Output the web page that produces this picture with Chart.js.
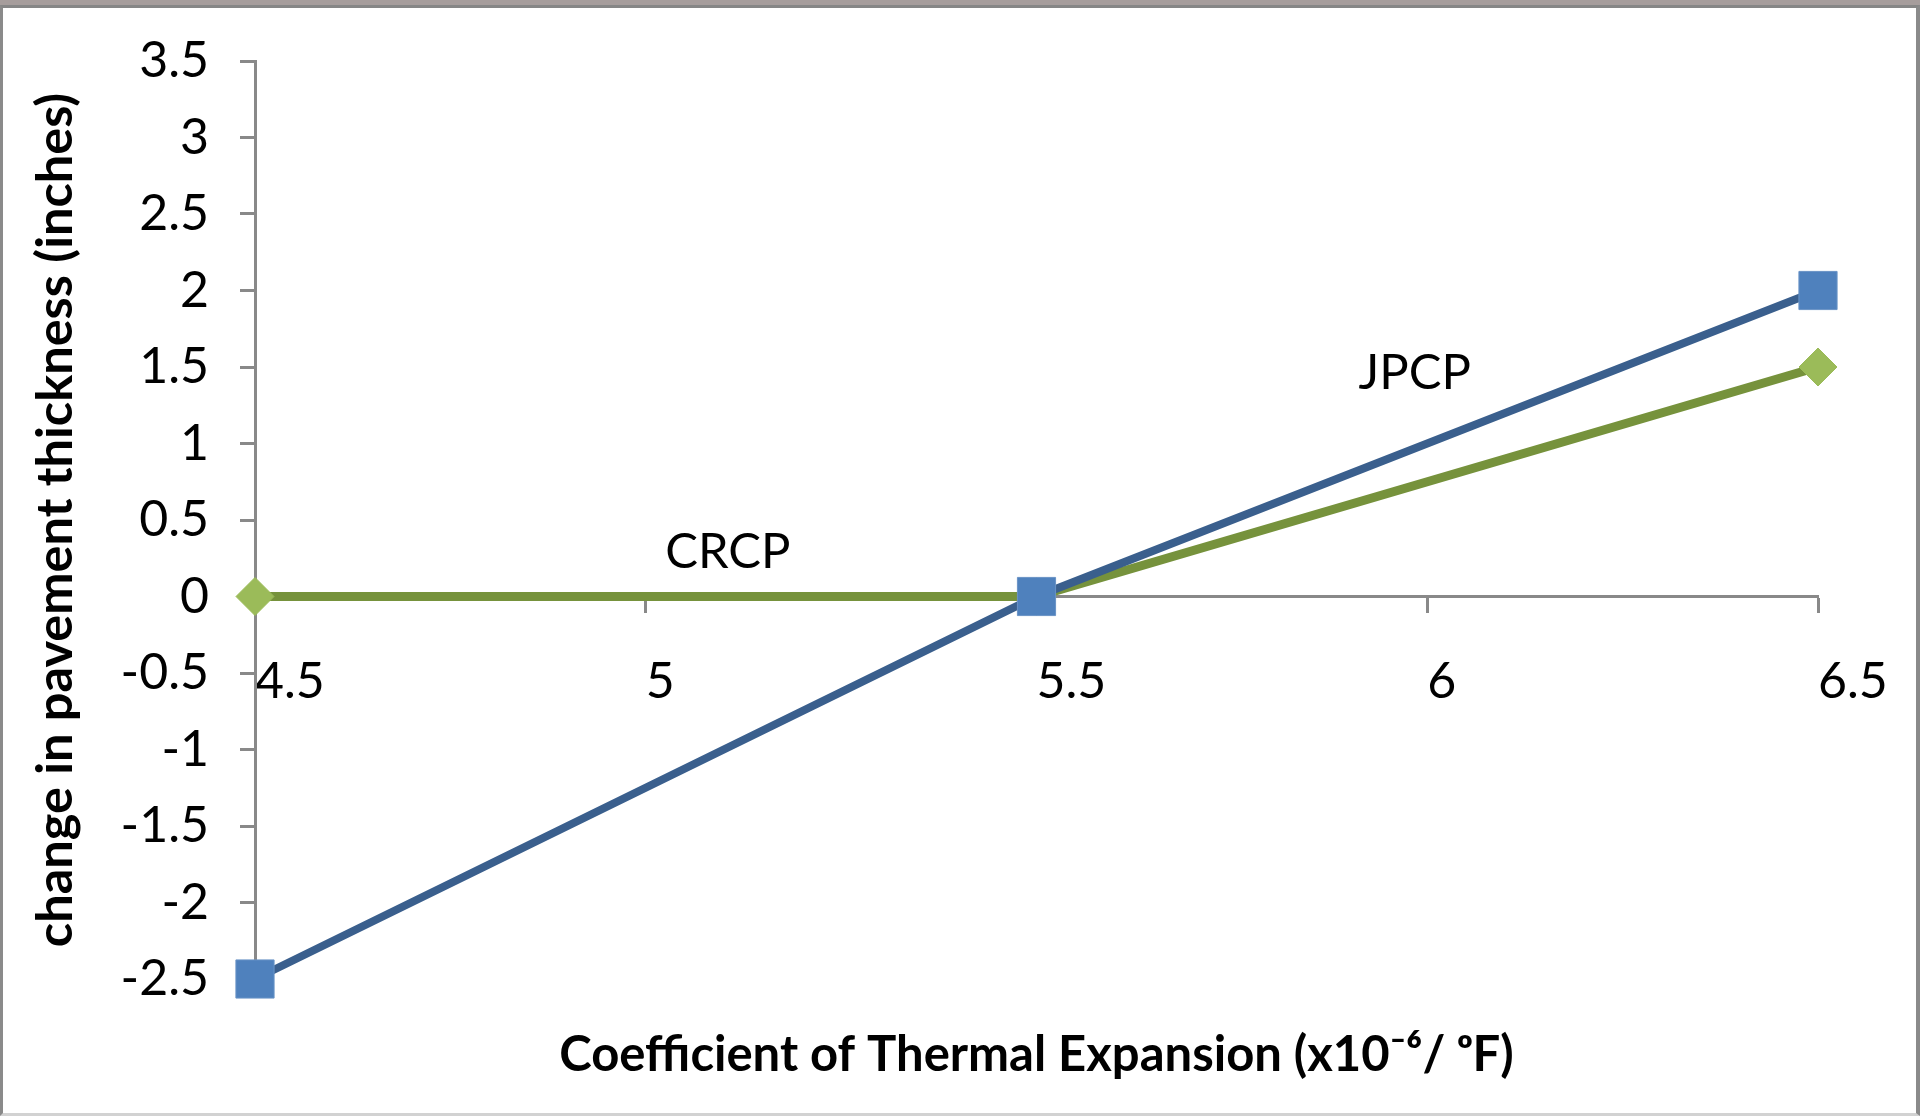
<!DOCTYPE html>
<html>
<head>
<meta charset="utf-8">
<title>CTE vs pavement thickness</title>
<script src="https://cdn.jsdelivr.net/npm/chart.js@4.4.1/dist/chart.umd.min.js"></script>
<style>
  html, body { margin: 0; padding: 0; background: #fff; }
  #wrap { position: relative; width: 1920px; height: 1116px; overflow: hidden; }
  #chart { position: absolute; left: 0; top: 0; }
  /* window frame around the chart picture */
  #strip { position: absolute; left: 0; top: 0; width: 1920px; height: 5px; background: #a69d9c; }
  #frame { position: absolute; left: 0; top: 5px; width: 1920px; height: 1111px; box-sizing: border-box;
           border-top: 3px solid #868686; border-left: 3px solid #8a8a8a; border-right: 4px solid #8a8a8a;
           border-bottom: 3px solid #d2d2d2; pointer-events: none; }
</style>
</head>
<body>
<div id="wrap">
  <canvas id="chart" width="1920" height="1116"></canvas>
  <div id="strip"></div>
  <div id="frame"></div>
</div>
<script>
// coefficient of thermal expansion (x10^-6 / oF)
const cteValues = [4.5, 5.5, 6.5];
// change in pavement thickness (inches)
const jpcpChange = [-2.5, 0, 2];
const crcpChange = [0, 0, 1.5];
// axis ticks
const xTickValues = [4.5, 5, 5.5, 6, 6.5];
const yTickValues = [3.5, 3, 2.5, 2, 1.5, 1, 0.5, 0, -0.5, -1, -1.5, -2, -2.5];

const FONT = 'Lato, "Open Sans", "DejaVu Sans", sans-serif';
const AXIS_GRAY = '#898989';

// where the series names sit, in data units
const seriesNotes = [
  { text: 'JPCP', x: 5.984, y: 1.458 },
  { text: 'CRCP', x: 5.105, y: 0.292 }
];

const notesPlugin = {
  id: 'seriesNotes',
  afterDatasetsDraw(chart) {
    const { ctx, scales } = chart;
    ctx.save();
    ctx.font = '49px ' + FONT;
    ctx.fillStyle = '#000';
    ctx.textAlign = 'center';
    ctx.textBaseline = 'middle';
    seriesNotes.forEach((n) => {
      ctx.fillText(n.text, scales.x.getPixelForValue(n.x), scales.y.getPixelForValue(n.y));
    });
    ctx.restore();
  }
};

const toPoints = (ys) => cteValues.map((x, i) => ({ x: x, y: ys[i] }));

new Chart(document.getElementById('chart'), {
  type: 'line',
  data: {
    datasets: [
      {
        label: 'JPCP',
        data: toPoints(jpcpChange),
        borderColor: '#3a5f8d',
        borderWidth: 8,
        pointStyle: 'rect',
        pointRadius: 27,
        pointHoverRadius: 27,
        pointBackgroundColor: '#4f81bd',
        pointBorderColor: '#6a93c6',
        pointBorderWidth: 1,
        clip: false,
        tension: 0
      },
      {
        label: 'CRCP',
        data: toPoints(crcpChange),
        borderColor: '#76923c',
        borderWidth: 9,
        pointStyle: 'rectRot',
        pointRadius: 19,
        pointHoverRadius: 19,
        pointBackgroundColor: '#9bbb59',
        pointBorderColor: '#9bbb59',
        pointBorderWidth: 1,
        clip: false,
        tension: 0
      }
    ]
  },
  options: {
    responsive: false,
    animation: false,
    layout: { padding: { top: 58, right: 102, bottom: 137, left: 0 } },
    plugins: {
      legend: { display: false },
      tooltip: { enabled: false }
    },
    scales: {
      x: {
        type: 'linear',
        position: { y: 0 },
        min: 4.5,
        max: 6.5,
        afterBuildTicks: (scale) => { scale.ticks = xTickValues.map((v) => ({ value: v })); },
        // axis sits on y = 0, so its box height only sets where the title goes
        afterFit: (scale) => {
          scale.height = 540;
          scale.paddingLeft = 0;
          scale.paddingRight = 0;
        },
        border: { display: true, color: AXIS_GRAY, width: 3 },
        grid: { drawOnChartArea: false, drawTicks: true, tickLength: 15, tickColor: AXIS_GRAY, tickWidth: 3 },
        ticks: {
          align: 'start',
          padding: 40,
          color: '#000',
          font: { family: FONT, size: 50 },
          callback: (v) => String(v)
        },
        title: {
          display: true,
          text: 'Coefficient of Thermal Expansion (x10\u207B\u2076/ \u1D52F)',
          color: '#000',
          font: { family: FONT, size: 49, weight: 'bold' },
          padding: { top: 0, bottom: 52 }
        }
      },
      y: {
        type: 'linear',
        min: -2.5,
        max: 3.5,
        afterBuildTicks: (scale) => { scale.ticks = yTickValues.map((v) => ({ value: v })); },
        afterFit: (scale) => { scale.width = 255; },
        border: { display: true, color: AXIS_GRAY, width: 3 },
        grid: { drawOnChartArea: false, drawTicks: true, tickLength: 15, tickColor: AXIS_GRAY, tickWidth: 3 },
        ticks: {
          padding: 31,
          color: '#000',
          font: { family: FONT, size: 50 },
          callback: (v) => String(v)
        },
        title: {
          display: true,
          text: 'change in pavement thickness (inches)',
          color: '#000',
          font: { family: FONT, size: 50.5, weight: 'bold' },
          padding: { top: 25, bottom: 0 }
        }
      }
    }
  },
  plugins: [notesPlugin]
});
</script>
</body>
</html>
